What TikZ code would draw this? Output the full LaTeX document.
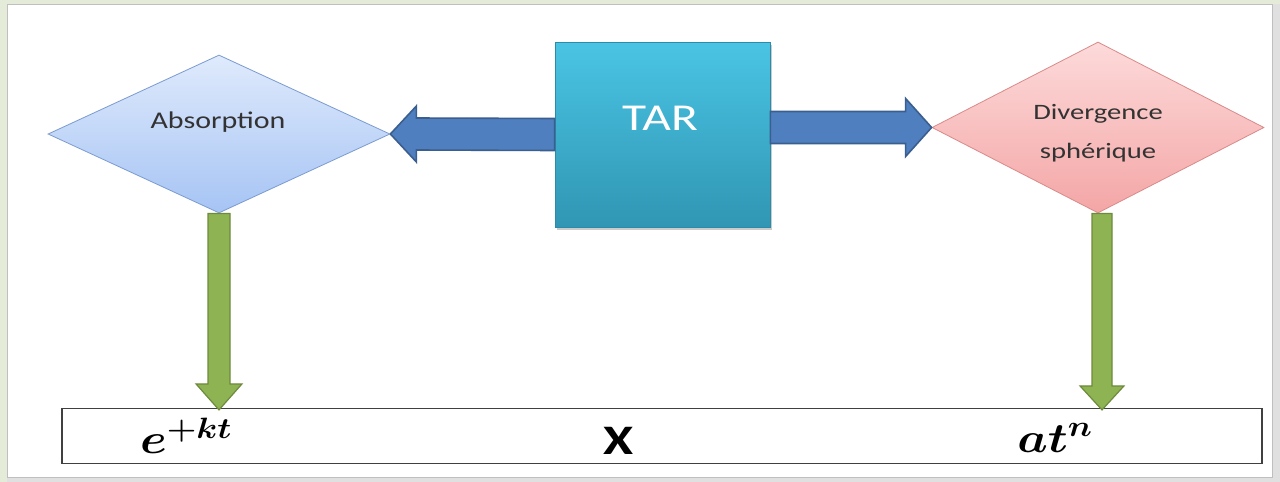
\RequirePackage{fix-cm}
\documentclass[tikz,border=0pt]{standalone}
\usepackage{fontspec}
\usepackage{graphicx}
\setmainfont{Carlito}
\usetikzlibrary{shapes.geometric,calc,shadows}
\definecolor{bgc}{HTML}{E4EBD8}
\definecolor{absTop}{HTML}{DFEAFC}
\definecolor{absBot}{HTML}{A6C4F4}
\definecolor{absLine}{HTML}{7B9BD0}
\definecolor{divTop}{HTML}{FDDADA}
\definecolor{divBot}{HTML}{F4A6A6}
\definecolor{divLine}{HTML}{D98A8A}
\definecolor{tarTop}{HTML}{4AC4E4}
\definecolor{tarBot}{HTML}{3096B3}
\definecolor{tarLine}{HTML}{2A8CAA}
\definecolor{blueFill}{HTML}{4F7FBF}
\definecolor{blueLine}{HTML}{3A5F8F}
\definecolor{greenFill}{HTML}{8DB352}
\definecolor{greenLine}{HTML}{6E8B3D}
\newcommand{\hstr}[2]{\scalebox{#1}[1]{#2}}
\tikzset{
  decision/.style={diamond, inner sep=0pt, aspect=2, shading=axis, shading angle=0},
  tarbox/.style={rectangle, inner sep=0pt, top color=tarTop, bottom color=tarBot, draw=tarLine, line width=0.8pt,
                 drop shadow={shadow xshift=2pt, shadow yshift=-3pt, fill=black!40, opacity=0.5}},
  bluearrow/.style={fill=blueFill, draw=blueLine, line width=1.6pt, line join=miter},
  greenarrow/.style={fill=greenFill, draw=greenLine, line width=1.2pt, line join=miter},
  lbl/.style={inner sep=0pt, text=black!80},
  formula/.style={inner sep=0pt, font=\fontsize{42}{46}\selectfont}
}
\begin{document}
\begin{tikzpicture}[x=1pt,y=-1pt]
\useasboundingbox (0,0) rectangle (1280,482);
\fill[bgc] (0,0) rectangle (1280,482);
\fill[black!12] (1272,4) rectangle (1280,482);
\fill[black!12] (7,477) rectangle (1280,482);
\fill[white] (7,4) rectangle (1272,477);
\draw[black!25, line width=0.6pt] (7,4) rectangle (1272,477);

% bottom box
\node[draw=black!75, line width=1.2pt, fill=white, minimum width=1200pt, minimum height=55pt, inner sep=0pt] (box) at (662,436) {};

% diamonds
\node[decision, top color=absTop, bottom color=absBot, draw=absLine, line width=0.8pt,
      minimum width=342pt, minimum height=158pt] (abs) at (219,134) {};
\node[decision, top color=divTop, bottom color=divBot, draw=divLine, line width=0.8pt,
      minimum width=332pt, minimum height=171pt] (div) at (1098,127.5) {};

% TAR box
\node[tarbox, minimum width=215pt, minimum height=185pt] (tar) at (662.5,134.5) {};
\node[inner sep=0pt, text=white, font=\fontsize{38}{40}\selectfont] (tart) at (660,118) {\hstr{1.3}{TAR}};

% labels
\node[lbl, font=\fontsize{24}{26}\selectfont] (abst) at (218,122) {\hstr{1.25}{Absorption}};
\node[lbl, font=\fontsize{22}{24}\selectfont] (divt1) at (1098,114) {\hstr{1.3}{Divergence}};
\node[lbl, font=\fontsize{22}{24}\selectfont] (divt2) at (1098,153) {\hstr{1.3}{sphérique}};

% blue arrows
\draw[bluearrow] ($(tar.west)+(0,-16)$) -- ($(abs.east)+(26,-16)$) -- ($(abs.east)+(26,-28)$)
  -- (abs.east) -- ($(abs.east)+(26,28)$) -- ($(abs.east)+(26,16)$) -- ($(tar.west)+(0,16)$) -- cycle;
\coordinate (rs) at (tar.east |- div.west);
\draw[bluearrow] ($(rs)+(0,-16)$) -- ($(div.west)+(-26,-16)$) -- ($(div.west)+(-26,-29)$)
  -- (div.west) -- ($(div.west)+(-26,29)$) -- ($(div.west)+(-26,16)$) -- ($(rs)+(0,16)$) -- cycle;

% green arrows
\coordinate (lt) at ($(abs.south |- box.north)+(0,2)$);
\draw[greenarrow] ($(abs.south)+(-11,0)$) -- ($(lt)+(-11,-26)$) -- ($(lt)+(-23,-26)$) -- (lt)
  -- ($(lt)+(23,-26)$) -- ($(lt)+(11,-26)$) -- ($(abs.south)+(11,0)$) -- cycle;
\coordinate (rt) at ($(div.south |- box.north)+(4,2)$);
\coordinate (rtop) at ($(div.south)+(4,0)$);
\draw[greenarrow] ($(rtop)+(-10,0)$) -- ($(rt)+(-10,-24)$) -- ($(rt)+(-22,-24)$) -- (rt)
  -- ($(rt)+(22,-24)$) -- ($(rt)+(10,-24)$) -- ($(rtop)+(10,0)$) -- cycle;

% formulas
\node[formula] (f1) at (186,436) {\hstr{1.15}{\boldmath$e^{+kt}$}};
\node[inner sep=0pt, font=\fontsize{42}{44}\selectfont\bfseries] (fx) at (619,441) {\hstr{1.3}{X}};
\node[formula] (f2) at (1055,438) {\hstr{1.15}{\boldmath$at^{n}$}};
\end{tikzpicture}
\end{document}
